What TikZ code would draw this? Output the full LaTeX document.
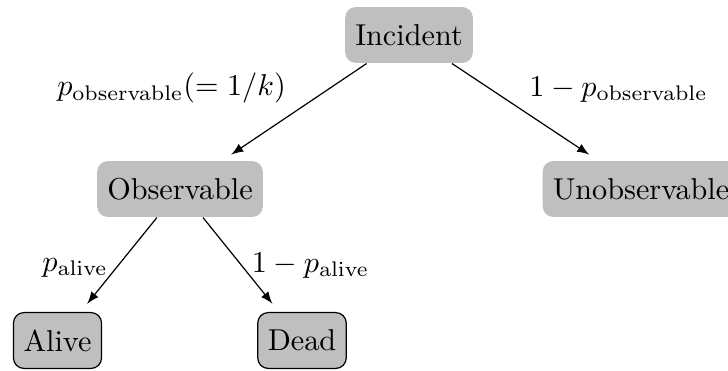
\documentclass[tikz,border=0pt]{standalone}
\usetikzlibrary{arrows}
\begin{document}
\begin{tikzpicture}[x=0.331pt,y=-0.331pt,
  box/.style={fill=black!25, rounded corners=3.5pt, minimum height=18.5pt, inner xsep=3.33pt, inner ysep=0pt},
  leaf/.style={box, draw, line width=0.4pt},
  arr/.style={-latex, line width=0.4pt, shorten >=3.5pt},
  lab/.style={anchor=base, inner sep=0pt}]
\useasboundingbox (0,0) rectangle (728,370);
\node[box] (inc) at (409,35) {Incident};
\node[box] (obs) at (180,189) {Observable};
\node[box] (unobs) at (641,189) {Unobservable};
\node[leaf] (alive) at (57.5,340.5) {Alive};
\node[leaf] (dead) at (302,340.5) {Dead};
\draw[arr] (inc) -- (obs);
\draw[arr] (inc) -- (unobs);
\draw[arr] (obs) -- (alive);
\draw[arr] (obs) -- (dead);
\node[lab] (l1) at (171.5,95.5) {$p_{\mathrm{observable}}(=1/k)$};
\node[lab] (l2) at (618.5,96) {$1-p_{\mathrm{observable}}$};
\node[lab] (l3) at (75,271) {$p_{\mathrm{alive}}$};
\node[lab] (l4) at (310.5,272) {$1-p_{\mathrm{alive}}$};
\end{tikzpicture}
\end{document}
